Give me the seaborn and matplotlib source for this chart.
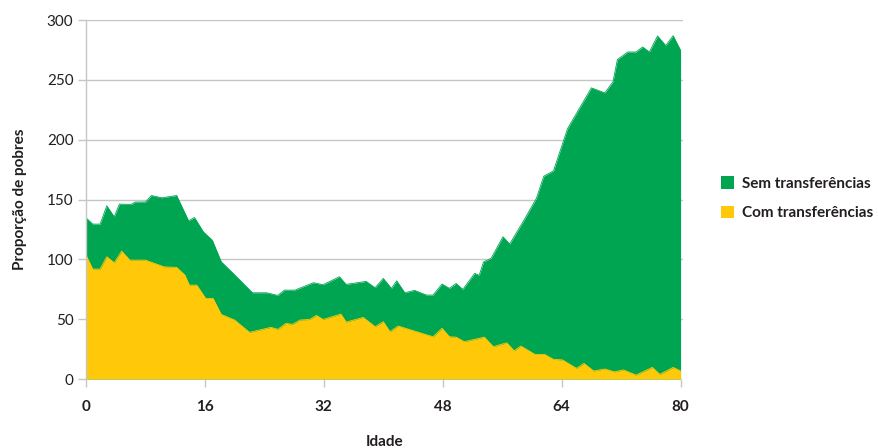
import matplotlib
matplotlib.use("Agg")
import matplotlib.pyplot as plt
from matplotlib.patches import Patch
import seaborn as sns
import pandas as pd

# Pobreza por idade: sem e com transferências
idade_sem = [0, 0.9, 1.9, 2.8, 3.8, 4.5, 6.1, 6.6, 8.0, 8.8, 10.2, 12.2, 13.8, 14.6, 15.8,
             17.0, 18.2, 19.8, 22.4, 24.3, 25.8, 26.7, 28.1, 30.6, 31.9, 34.1, 35.0, 37.7,
             38.9, 40.0, 41.1, 41.8, 42.9, 44.2, 45.8, 46.7, 47.9, 48.9, 49.8, 50.7, 52.3,
             52.9, 53.5, 54.5, 56.1, 57.0, 58.8, 60.6, 61.6, 62.9, 64.8, 68.0, 69.8, 70.9,
             71.5, 72.9, 74.0, 74.9, 75.8, 76.9, 78.0, 79.0, 80.0]
sem_transf = [134.8, 129.5, 129.5, 144.8, 135.6, 146.2, 146.0, 147.9, 148.0, 153.4, 151.5,
              153.4, 132.3, 135.0, 123.0, 116.0, 98.0, 88.3, 72.1, 72.1, 69.9, 74.3, 74.3,
              80.5, 78.8, 85.5, 79.1, 81.6, 76.3, 84.1, 75.7, 82.1, 72.1, 74.1, 70.2, 70.2,
              79.4, 75.8, 79.9, 74.9, 88.3, 86.6, 98.0, 100.8, 118.9, 112.8, 131.4, 151.0,
              169.6, 174.0, 209.4, 243.4, 239.2, 248.4, 267.1, 273.4, 273.4, 277.6, 273.4,
              286.8, 278.8, 287.0, 274.8]

idade_com = [0, 0.9, 1.9, 2.8, 3.8, 4.8, 5.9, 8.0, 10.5, 12.2, 13.3, 13.9, 14.9, 16.1, 17.1,
             18.2, 20.0, 22.0, 24.9, 25.8, 26.9, 27.8, 28.8, 30.1, 31.0, 31.9, 34.3, 35.0,
             37.3, 38.9, 40.0, 40.9, 42.0, 46.7, 47.9, 48.9, 49.8, 50.9, 53.6, 54.8, 56.6,
             57.6, 58.5, 60.4, 61.7, 62.9, 64.1, 66.0, 67.0, 68.3, 69.8, 71.1, 72.3, 74.0,
             76.2, 77.2, 79.0, 80.0]
com_transf = [103.6, 91.9, 91.9, 102.2, 97.2, 106.9, 99.4, 99.4, 93.8, 93.3, 86.9, 78.5,
              78.5, 67.4, 67.4, 54.0, 49.3, 39.0, 43.2, 41.5, 46.5, 45.7, 49.3, 49.8, 53.2,
              49.8, 54.3, 47.6, 51.5, 43.7, 47.9, 39.5, 44.3, 35.3, 42.4, 35.3, 35.0, 31.2,
              35.0, 27.0, 30.3, 23.6, 27.6, 20.6, 20.6, 16.4, 16.0, 8.9, 13.1, 6.7, 8.4, 6.0,
              7.6, 3.3, 9.7, 3.9, 9.7, 6.7]

x_ticks = [0, 16, 32, 48, 64, 80]
y_ticks = [0, 50, 100, 150, 200, 250, 300]
series_names = ["Sem transferências", "Com transferências"]

VERDE = "#00A551"
AMARELO = "#FFC90A"
GRID = "#C6C6C6"
TEXTO = "#231F20"

sns.set_style("white")
plt.rcParams["font.family"] = ["Lato", "DejaVu Sans"]

df_sem = pd.DataFrame({"Idade": idade_sem, "valor": sem_transf})
df_com = pd.DataFrame({"Idade": idade_com, "valor": com_transf})

fig = plt.figure(figsize=(8.79, 4.48), dpi=100)
ax = fig.add_axes([0.0978, 0.154, 0.679, 0.801])

ax.set_axisbelow(True)
for yv in y_ticks:
    ax.axhline(yv, color=GRID, lw=1.0, zorder=0)

ax.fill_between(df_sem["Idade"], 0, df_sem["valor"], color=VERDE, lw=0, zorder=2)
sns.lineplot(data=df_sem, x="Idade", y="valor", color=VERDE, lw=0.6, ax=ax, zorder=2)
ax.fill_between(df_com["Idade"], 0, df_com["valor"], color=AMARELO, lw=0, zorder=3)
sns.lineplot(data=df_com, x="Idade", y="valor", color=AMARELO, lw=0.6, ax=ax, zorder=3)

ax.set_xlim(0, 80.3)
ax.set_ylim(0, 300)
ax.set_xticks(x_ticks)
ax.set_yticks(y_ticks)
ax.set_xticklabels([str(v) for v in x_ticks], fontweight="bold", fontsize=11, color=TEXTO)
ax.set_yticklabels([str(v) for v in y_ticks], fontsize=11, color=TEXTO)
ax.tick_params(axis="x", length=6, width=1, color=GRID, pad=9, direction="out", bottom=True)
ax.tick_params(axis="y", length=6, width=1, color=GRID, pad=3, direction="out", left=True)

for side in ["top", "right", "bottom"]:
    ax.spines[side].set_visible(False)
ax.spines["left"].set_color(GRID)
ax.spines["left"].set_linewidth(1.0)
ax.spines["left"].set_zorder(4)

ax.set_xlabel("Idade", fontweight="bold", fontsize=11, color=TEXTO, labelpad=15)
ax.set_ylabel("Proporção de pobres", fontweight="bold", fontsize=11, color=TEXTO, labelpad=14)

handles = [Patch(facecolor=VERDE, edgecolor="none"), Patch(facecolor=AMARELO, edgecolor="none")]
fig.legend(handles, series_names, loc="upper left", bbox_to_anchor=(0.805, 0.637),
           frameon=False, handlelength=0.85, handleheight=0.85, handletextpad=0.5,
           labelspacing=1.0, prop={"weight": "bold", "size": 11}, labelcolor=TEXTO)

fig.savefig("out.png", dpi=100)
